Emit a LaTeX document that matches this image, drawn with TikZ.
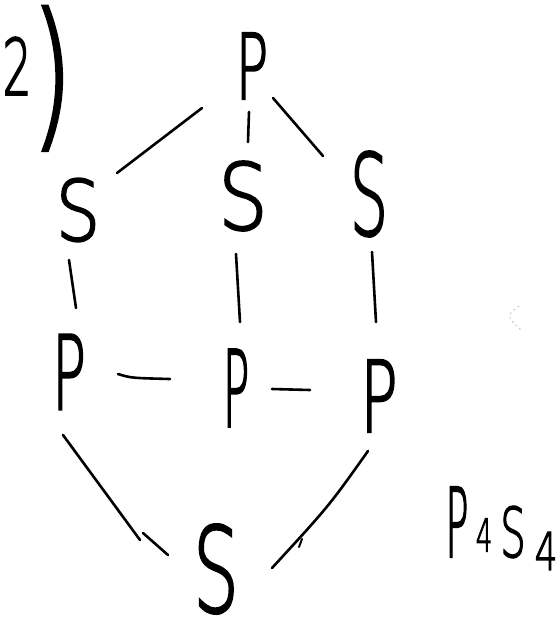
\documentclass[tikz,border=0pt]{standalone}
\usepackage{fontspec}
\setmainfont{DejaVu Sans ExtraLight}[FakeBold=2.5]
\usetikzlibrary{calc}
\newcommand\hwfont{\fontsize{100}{100}\selectfont}
\tikzset{
  ch/.style 2 args={inner sep=0pt, outer sep=0pt, font=\hwfont, transform shape, xscale=#2/50, yscale=#1/73},
  bond/.style={line width=2.6pt, line cap=round, line join=round},
}
\begin{document}
\begin{tikzpicture}[x=1pt,y=-1pt]
\useasboundingbox (0,0) rectangle (558,619);
\fill[white] (0,0) rectangle (558,619);
% label 2)
\path (2.4,129) node[anchor=base west, inner sep=0pt, outer sep=0pt, font=\hwfont] (lbl)
  {\raisebox{34pt}{\scalebox{0.46}[0.78]{2}}\scalebox{1.05}[1.61]{)}};
% atoms
\path (252,66)  node[ch={66}{27}] (tp) {P};
\path (78,210)  node[ch={61}{35}] (sl) {S};
\path (243,196) node[ch={67}{39}] (sm) {S};
\path (369,194) node[ch={82}{30}] (sr) {S};
\path (69,372)  node[ch={75}{28}] (pl) {P};
\path (236,388) node[ch={77}{22}] (pm) {P};
\path (379,396) node[ch={72}{31}] (pr) {P};
\path (216,569) node[ch={86}{36}] (sb) {S};
% formula P4S4
\path (457,522) node[ch={70}{19}] (fP) {P};
\path (484,535) node[ch={33}{13}] (f4a) {4};
\path (513,532) node[ch={50}{20}] (fS) {S};
\path (546,551) node[ch={38}{18}] (f4b) {4};
% bonds
\draw[bond] ($(tp)+(-50,42)$) -- ($(sl)+(39,-37)$);
\draw[bond] ($(tp)+(-3,46)$) -- ($(sm)+(5,-54)$);
\draw[bond] ($(tp)+(21,32)$) -- ($(sr)+(-46,-38)$);
\draw[bond] ($(sl)+(-9,50)$) -- ($(pl)+(7,-64)$);
\draw[bond] ($(sm)+(-7,58)$) -- ($(pm)+(4,-66)$);
\draw[bond] ($(sr)+(3,58)$) -- ($(pr)+(-3,-74)$);
\draw[bond] ($(pl)+(49,2)$) .. controls ($(pl)+(62,6)$) .. ($(pm)+(-66,-9)$);
\draw[bond] ($(pm)+(36,1)$) -- ($(pr)+(-69,-6)$);
\draw[bond] ($(pl)+(-6,63)$) -- ($(sb)+(-76,-29)$);
\draw[bond] ($(sb)+(-73,-36)$) -- ($(sb)+(-48,-14)$);
\draw[bond] ($(pr)+(-11,55)$) .. controls ($(pr)+(-50,110)$) .. ($(sb)+(56,-1)$);
\draw[bond, line width=2pt] ($(sb)+(86,-30)$) -- ($(sb)+(83,-22)$);
% faint smudge
\draw[gray!50, line width=0.8pt, dash pattern=on 2pt off 3pt] (519,306) .. controls (506,316) .. (521,330);
\end{tikzpicture}
\end{document}
